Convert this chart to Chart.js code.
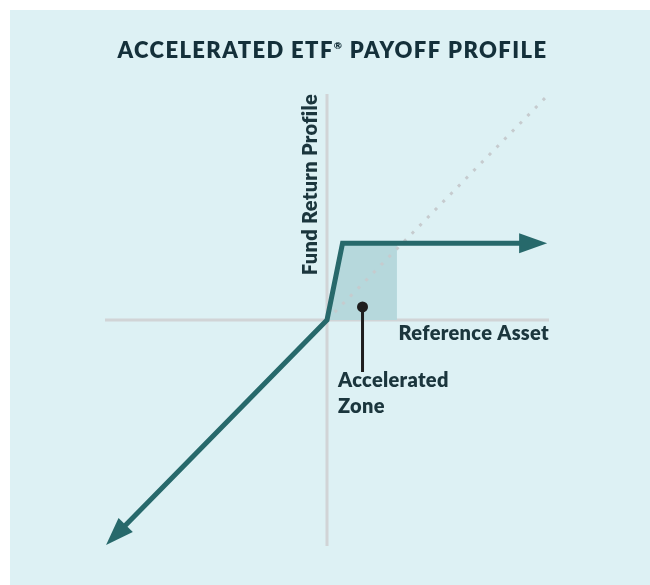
<!DOCTYPE html>
<html><head><meta charset="utf-8">
<script src="https://cdn.jsdelivr.net/npm/chart.js@4"></script>
<style>
html,body{margin:0;padding:0;background:#ffffff;}
#panel{position:absolute;left:10px;top:10px;width:640px;height:575px;background:#ddf1f4;}
#wrap{position:absolute;left:0;top:0;width:650px;height:585px;}
</style></head><body>
<div id="panel"></div>
<div id="wrap"><canvas id="c" width="650" height="585"></canvas></div>
<script>
// ---- text ----
const titleMain = "ACCELERATED ETF";
const titleMark = "®";
const titleRest = " PAYOFF PROFILE";
const xAxisLabel = "Reference Asset";
const yAxisLabel = "Fund Return Profile";
const zoneLabel = ["Accelerated", "Zone"];

// ---- data (reference asset return vs fund return, scaled -100..100) ----
const payoffX = [-91, 0, 7, 87];
const payoffY = [-91, 0, 34, 34];
// accelerated zone shading
const zoneX = [0, 7, 31.5];
const zoneY = [0, 34, 34];
// 1:1 reference (dotted)
const refX = [0, 100];
const refY = [0, 100];
// axis extent
const axisMin = -100;
const axisMax = 100;
// zone marker dot and leader line
const markerX = [16, 16];
const markerY = [5.8, -23];

const pts = (xs, ys) => xs.map((x, i) => ({x, y: ys[i]}));

const TEAL = '#27696b';
const TEXT = '#1b363d';

const arrowPlugin = {
  id: 'arrows',
  afterDatasetsDraw(chart) {
    const ctx = chart.ctx;
    chart.data.datasets.forEach((ds, i) => {
      if (!ds.arrows) return;
      const p = chart.getDatasetMeta(i).data;
      const draw = (a, b) => {
        const dx = b.x - a.x, dy = b.y - a.y, L = Math.hypot(dx, dy);
        const ux = dx / L, uy = dy / L, len = 27, hw = 10;
        const bx = b.x - ux, by = b.y - uy;
        ctx.save();
        ctx.beginPath();
        ctx.moveTo(bx + ux * (len + 1), by + uy * (len + 1));
        ctx.lineTo(bx - uy * hw, by + ux * hw);
        ctx.lineTo(bx + uy * hw, by - ux * hw);
        ctx.closePath();
        ctx.fillStyle = ds.borderColor;
        ctx.fill();
        ctx.restore();
      };
      draw(p[1], p[0]);
      draw(p[p.length - 2], p[p.length - 1]);
    });
  }
};

const textPlugin = {
  id: 'texts',
  afterDraw(chart) {
    const ctx = chart.ctx;
    const xs = chart.scales.x, ys = chart.scales.y;
    ctx.save();
    // title
    ctx.fillStyle = '#14303a';
    ctx.textBaseline = 'alphabetic';
    ctx.textAlign = 'left';
    const fBig = '800 22px Lato', fSmall = '800 10px Lato';
    ctx.letterSpacing = '1.4px';
    ctx.font = fBig; const w1 = ctx.measureText(titleMain).width; const w3 = ctx.measureText(titleRest).width;
    ctx.font = fSmall; const w2 = ctx.measureText(titleMark).width;
    let x0 = 333 - (w1 + w2 + 1 + w3) / 2;
    ctx.font = fBig; ctx.fillText(titleMain, x0, 58);
    ctx.font = fSmall; ctx.fillText(titleMark, x0 + w1, 49);
    ctx.font = fBig; ctx.fillText(titleRest, x0 + w1 + w2, 58);

    ctx.fillStyle = TEXT;
    ctx.font = '800 20px Lato';
    ctx.letterSpacing = '0.3px';
    // x axis label
    ctx.textAlign = 'right';
    ctx.fillText(xAxisLabel, xs.getPixelForValue(axisMax), ys.getPixelForValue(0) + 20);
    // y axis label
    ctx.save();
    ctx.translate(xs.getPixelForValue(0) - 10, ys.getPixelForValue(axisMax));
    ctx.rotate(-Math.PI / 2);
    ctx.textAlign = 'right';
    ctx.fillText(yAxisLabel, 0, 0);
    ctx.restore();
    // zone label
    ctx.textAlign = 'left';
    const lx = xs.getPixelForValue(0) + 11;
    const ly = ys.getPixelForValue(markerY[1]);
    ctx.fillText(zoneLabel[0], lx, ly + 15);
    ctx.fillText(zoneLabel[1], lx, ly + 41);
    ctx.restore();
  }
};

new Chart(document.getElementById('c'), {
  type: 'scatter',
  data: {
    datasets: [
      { data: pts(markerX, markerY), showLine: true, borderColor: '#1e1e1e', borderWidth: 3,
        pointRadius: [5.5, 0], pointBackgroundColor: '#1e1e1e', pointBorderColor: '#1e1e1e', pointBorderWidth: 0, clip: false },
      { data: pts(payoffX, payoffY), showLine: true, borderColor: TEAL, borderWidth: 5, borderJoinStyle: 'miter', pointRadius: 0, clip: false, arrows: true },
      { data: pts(refX, refY), showLine: true, borderColor: '#c6cbce', borderWidth: 3, borderDash: [3, 8], pointRadius: 0, clip: false },
      { data: pts(zoneX, zoneY), showLine: true, borderWidth: 0, borderColor: 'rgba(0,0,0,0)', backgroundColor: '#b6d8dc', fill: 'origin', pointRadius: 0, clip: false },
      { data: pts([axisMin, axisMax], [0, 0]), showLine: true, borderColor: '#d1d4d6', borderWidth: 3, pointRadius: 0, clip: false },
      { data: pts([0, 0], [axisMin, axisMax]), showLine: true, borderColor: '#d1d4d6', borderWidth: 3, pointRadius: 0, clip: false }
    ]
  },
  options: {
    responsive: false,
    animation: false,
    devicePixelRatio: 1,
    layout: { padding: { left: 105, right: 101, top: 94, bottom: 39 } },
    scales: {
      x: { type: 'linear', min: axisMin, max: axisMax, display: false },
      y: { type: 'linear', min: axisMin, max: axisMax, display: false }
    },
    plugins: { legend: { display: false }, tooltip: { enabled: false }, title: { display: false } },
    elements: { line: { tension: 0 } }
  },
  plugins: [arrowPlugin, textPlugin]
});
</script>
</body></html>
